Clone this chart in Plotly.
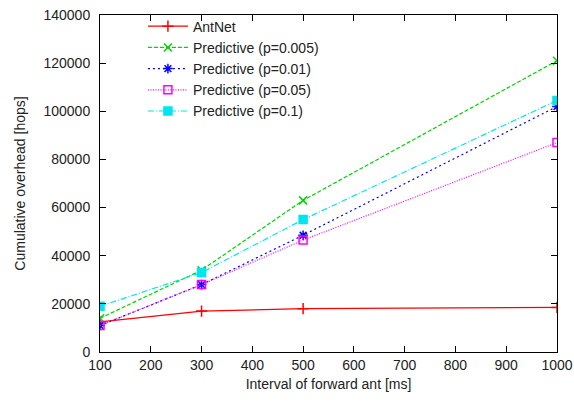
import plotly.graph_objects as go

# Data
interval = [100, 300, 500, 1000]
antnet = [12500, 17000, 18000, 18500]
pred_0005 = [14000, 34000, 63000, 121000]
pred_001 = [11000, 28000, 48500, 102000]
pred_005 = [11000, 28000, 46500, 87000]
pred_01 = [19000, 33000, 55000, 104500]

series = [
    ("AntNet", antnet, "#ff0000", "solid", "cross-thin-open", 8),
    ("Predictive (p=0.005)", pred_0005, "#00d400", "4px,2px", "x-thin-open", 8),
    ("Predictive (p=0.01)", pred_001, "#0000ff", "2px,3px", "asterisk-open", 8),
    ("Predictive (p=0.05)", pred_005, "#ff00ff", "1px,1.5px", "square-open", 8),
    ("Predictive (p=0.1)", pred_01, "#00e5ee", "6px,2px,1px,2px", "square", 8),
]

fig = go.Figure()
for name, ys, color, dash, symbol, size in series:
    fig.add_trace(go.Scatter(
        x=interval, y=ys, name=name, mode="lines+markers",
        line=dict(color=color, width=1.2, dash=dash),
        marker=dict(symbol=symbol, size=size, color=color,
                    line=dict(color=color, width=1.5)),
    ))

axis_style = dict(
    showline=True, linecolor="black", linewidth=1, mirror="ticks",
    ticks="inside", ticklen=6, tickcolor="black", showgrid=False,
    zeroline=False, tickfont=dict(size=14, color="#222"), automargin=False,
)

fig.update_xaxes(range=[100, 1000], tickvals=list(range(100, 1001, 100)),
                 title=dict(text="Interval of forward ant [ms]", font=dict(size=14, color="#222"),
                            standoff=7),
                 **axis_style)
fig.update_yaxes(range=[0, 140000], tickvals=list(range(0, 140001, 20000)),
                 tickformat="d", ticklabelstandoff=6,
                 title=dict(text="Cumulative overhead [hops]", font=dict(size=14, color="#222"),
                            standoff=14),
                 **axis_style)

fig.update_layout(
    width=574, height=402,
    margin=dict(l=100, r=17, t=14, b=50),
    plot_bgcolor="white", paper_bgcolor="white",
    font=dict(family="Liberation Sans, Arial, sans-serif", size=14, color="#222"),
    legend=dict(x=0.49, y=1.01, xanchor="right", yanchor="top",
                bgcolor="rgba(0,0,0,0)", font=dict(size=14), itemwidth=40,
                tracegroupgap=0),
)

# drop the default body margin so the figure fills the window exactly
fig.write_html("out.html", config={"displayModeBar": False},
               post_script="document.body.style.margin='0';document.body.style.overflow='hidden';")
